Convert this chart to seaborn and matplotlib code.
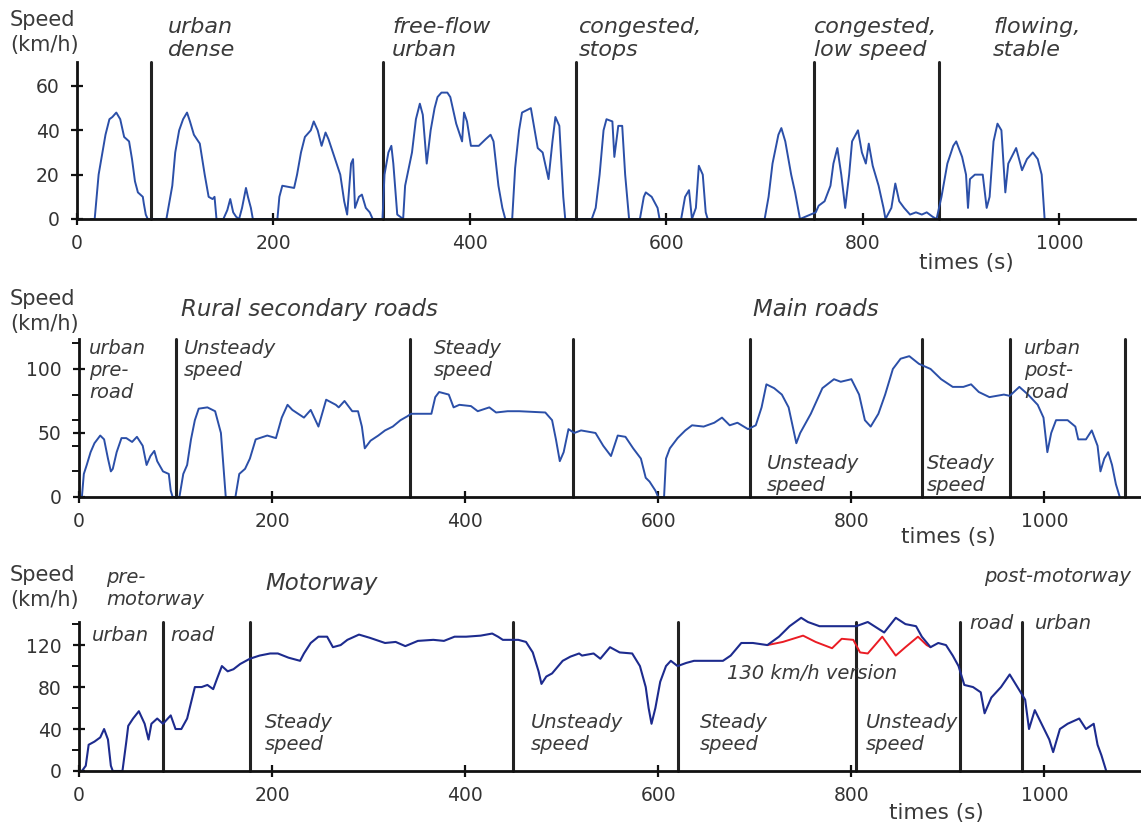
import matplotlib
matplotlib.use('Agg')
import matplotlib.pyplot as plt
import seaborn as sns

# Speed traces: time (s) and speed (km/h)
# Panel 1 - urban cycle
t1 = [14, 18, 22, 29, 33, 36, 40, 44, 48, 53, 56, 59, 62, 67, 68, 70, 72,
      91, 97, 100, 104, 108, 112, 115, 119, 125, 130, 134, 138, 140, 142,
      149, 153, 156, 159, 162, 165, 168, 172, 174, 177, 179,
      204, 206, 209, 221, 224, 228, 232, 238, 241, 245, 249, 253, 256, 262, 268,
      272, 275, 279, 281, 283, 287, 290, 294, 298, 301,
      311, 313, 317, 320, 322, 326, 332, 334, 341, 345, 349, 352, 356, 360, 364,
      367, 371, 377, 380, 386, 392, 394, 397, 401, 409, 416, 421, 424, 429, 433, 436,
      443, 446, 450, 453, 462, 469, 474, 480, 484, 487, 491, 495, 497,
      524, 528, 532, 536, 539, 545, 547, 551, 555, 558, 562,
      573, 577, 579, 585, 591, 593,
      615, 619, 623, 626, 630, 633, 637, 640, 642,
      700, 704, 708, 714, 717, 721, 727, 731, 736,
      752, 755, 761, 767, 770, 774, 778, 782, 786, 789, 795, 799, 803, 806, 810,
      816, 821, 823, 829, 833, 837, 842, 848, 854, 860, 865, 871, 875,
      880, 886, 892, 895, 901, 905, 907, 909, 914, 922, 926, 929, 933, 937, 941,
      945, 948, 956, 962, 967, 973, 978, 982, 985, 989]
v1 = [0, 0, 20, 38, 45, 46, 48, 45, 37, 35, 27, 17, 12, 10, 7, 2, 0,
      0, 15, 30, 40, 45, 48, 44, 38, 34, 20, 10, 9, 10, 0,
      0, 4, 9, 3, 1, 0, 5, 14, 10, 5, 0,
      0, 10, 15, 14, 20, 30, 37, 40, 44, 40, 33, 39, 36, 28, 20,
      8, 2, 25, 27, 5, 10, 11, 5, 3, 0,
      0, 20, 30, 33, 25, 2, 0, 15, 30, 45, 52, 47, 25, 40, 50,
      55, 57, 57, 55, 43, 35, 48, 44, 33, 33, 36, 38, 35, 15, 5, 0,
      0, 23, 40, 48, 50, 32, 30, 18, 35, 46, 42, 10, 0,
      0, 5, 20, 40, 45, 44, 28, 42, 42, 20, 0,
      0, 10, 12, 10, 5, 0,
      0, 10, 13, 0, 5, 24, 20, 3, 0,
      0, 10, 25, 38, 41, 35, 20, 12, 0,
      3, 6, 8, 15, 25, 32, 20, 5, 20, 35, 40, 30, 25, 34, 24,
      15, 5, 0, 5, 16, 8, 5, 2, 3, 2, 3, 1, 0,
      10, 25, 33, 35, 28, 20, 5, 18, 20, 20, 5, 10, 35, 43, 40,
      12, 25, 32, 22, 27, 30, 27, 20, 0, 0]
div1 = [75, 312, 508, 750, 877]

# Panel 2 - road cycle
t2 = [3, 5, 8, 12, 16, 22, 26, 30, 33, 35, 39, 44, 49, 55, 60, 66, 70, 74, 78, 81,
      87, 93, 95, 97, 104, 108, 112, 116, 120, 124, 133, 141, 147, 150, 152, 162,
      166, 172, 177, 183, 195, 204, 210, 216, 221, 227, 233, 240, 248, 256, 266,
      269, 275, 283, 289, 293, 296, 302, 310, 317, 325, 333, 340, 344, 365, 369,
      373, 383, 388, 394, 406, 413, 425, 432, 444, 456, 483, 490, 494, 498, 502,
      507, 513, 520, 535, 543, 551, 558, 566, 574, 582, 587, 591, 597, 600, 606,
      608, 612, 620, 628, 635, 647, 658, 666, 674, 682, 693, 701, 707, 712, 720,
      728, 735, 743, 747, 758, 770, 782, 789, 800, 808, 814, 820, 828, 835, 843,
      851, 860, 870, 882, 893, 905, 916, 924, 932, 943, 958, 964, 974, 983, 993,
      999, 1003, 1007, 1012, 1024, 1032, 1035, 1043, 1049, 1055, 1058, 1062, 1066,
      1070, 1074, 1078]
v2 = [0, 18, 25, 35, 42, 48, 45, 30, 20, 22, 35, 46, 46, 43, 47, 40, 25, 32, 36, 28,
      20, 18, 5, 0, 0, 18, 25, 45, 60, 69, 70, 67, 50, 20, 0, 0,
      18, 22, 30, 45, 48, 46, 62, 72, 68, 65, 62, 68, 55, 76, 72,
      70, 75, 67, 67, 55, 38, 44, 48, 52, 55, 60, 63, 65, 65, 78,
      82, 80, 70, 72, 71, 67, 70, 66, 67, 67, 66, 60, 45, 28, 35,
      53, 50, 52, 50, 40, 32, 48, 47, 38, 30, 15, 12, 5, 0, 0,
      30, 38, 46, 52, 56, 55, 58, 62, 56, 58, 53, 56, 70, 88, 85,
      80, 70, 42, 50, 65, 85, 92, 90, 92, 80, 60, 55, 65, 80, 100,
      108, 110, 104, 100, 92, 86, 86, 88, 82, 78, 80, 79, 86, 80, 72,
      62, 35, 50, 60, 60, 55, 45, 45, 52, 40, 20, 30, 35,
      25, 10, 0]
div2 = [100, 343, 512, 695, 873, 964, 1083]

# Panel 3 - motorway cycle, and the 130 km/h version where it differs
t3 = [3, 7, 10, 16, 22, 26, 30, 33, 35, 45, 49, 51, 56, 62, 68, 72, 75, 81, 87, 95,
      100, 106, 112, 116, 120, 127, 133, 139, 143, 148, 154, 160, 167, 177, 187,
      198, 206, 217, 229, 233, 240, 248, 257, 263, 271, 278, 290, 301, 317, 328,
      338, 351, 367, 378, 389, 401, 416, 428, 434, 439, 455, 463, 470, 476, 479,
      484, 490, 501, 509, 518, 521, 533, 540, 550, 560, 573, 581, 587, 590, 593,
      597, 602, 608, 613, 620, 629, 637, 667, 675, 686, 698, 713, 725, 736, 748,
      755, 767, 782, 805, 817, 834, 846, 856, 867, 873, 882, 890, 898, 905, 911,
      917, 926, 934, 938, 945, 955, 964, 972, 980, 984, 990, 997, 1005, 1009, 1016,
      1024, 1036, 1043, 1051, 1055, 1059, 1064]
v3 = [0, 5, 25, 28, 32, 40, 30, 5, 0, 0, 28, 43, 50, 57, 45, 30, 45, 50, 45, 53,
      40, 40, 50, 65, 80, 80, 82, 78, 88, 100, 95, 97, 102, 107, 110,
      112, 112, 108, 105, 112, 122, 128, 128, 118, 120, 125, 130, 127, 122, 123,
      119, 124, 125, 124, 128, 128, 129, 131, 128, 125, 125, 123, 113, 95, 83,
      90, 93, 105, 109, 112, 110, 112, 107, 118, 113, 112, 100, 80, 60, 45,
      60, 85, 100, 105, 100, 103, 105, 105, 110, 122, 122, 120, 128, 138, 146,
      142, 138, 138, 138, 142, 132, 146, 140, 138, 128, 118, 122, 120, 110, 100,
      82, 80, 75, 55, 70, 80, 92, 80, 68, 40, 58, 45, 30, 18, 40,
      45, 50, 40, 45, 25, 15, 0]
t3_130 = [713, 729, 750, 763, 780, 790, 802, 809, 817, 832, 846, 856, 869, 878, 882]
v3_130 = [120, 123, 129, 123, 117, 126, 125, 113, 112, 128, 110, 118, 128, 120, 118]
div3 = [87, 177, 450, 620, 805, 913, 977]

W, H = 1141, 826
blue = '#2b4fa8'
navy = '#1d2b8e'
red = '#ea1c24'
grey = '#3a3a3a'

sns.set_style('ticks')
plt.rcParams['font.family'] = ['DejaVu Sans']

fig = plt.figure(figsize=(W / 100, H / 100), dpi=100)


def add_ax(left, right, bottom, top):
    # axes box given in pixels of the 1141x826 image
    return fig.add_axes([left / W, 1 - bottom / H, (right - left) / W, (bottom - top) / H])


def note(x, y, s, size=14, style='italic', **kw):
    fig.text(x / W, 1 - y / H, s, fontsize=size, style=style, color=grey,
             ha=kw.pop('ha', 'left'), va=kw.pop('va', 'top'),
             linespacing=kw.pop('linespacing', 1.2), **kw)


def style_ax(ax, xmax, ymax, major, minor=None):
    ax.set_xlim(0, xmax)
    ax.set_ylim(0, ymax)
    ax.set_xticks(range(0, 1001, 200))
    ax.set_yticks(major)
    if minor is not None:
        ax.set_yticks(minor, minor=True)
    sns.despine(ax=ax)
    for side in ['left', 'bottom']:
        ax.spines[side].set_linewidth(2)
        ax.spines[side].set_color('#111')
    ax.tick_params(which='major', direction='inout', length=9, width=1.6,
                   color='#111', labelsize=13.5, labelcolor='#333', pad=6)
    ax.tick_params(axis='y', which='major', pad=8)
    ax.tick_params(which='minor', direction='out', length=5, width=1.4, color='#111')
    ax.set_xlabel('')
    ax.set_ylabel('')
    ax.patch.set_alpha(0)
    for line in ax.get_lines():
        line.set_clip_on(False)


ax1 = add_ax(77, 1135, 219, 62)
ax2 = add_ax(79, 1141, 497, 339)
ax3 = add_ax(79, 1141, 771, 622)

sns.lineplot(x=t1, y=v1, ax=ax1, color=blue, lw=1.4, sort=False, estimator=None)
for d in div1:
    ax1.axvline(d, color='#222', lw=2.2, zorder=1)
style_ax(ax1, 1077, 70.8, [0, 20, 40, 60])

sns.lineplot(x=t2, y=v2, ax=ax2, color=blue, lw=1.4, sort=False, estimator=None)
for d in div2:
    ax2.axvline(d, color='#222', lw=2.2, zorder=1)
style_ax(ax2, 1100, 123.4, [0, 50, 100], [20, 40, 60, 80, 120])

sns.lineplot(x=t3_130, y=v3_130, ax=ax3, color=red, lw=1.4, sort=False, estimator=None)
sns.lineplot(x=t3, y=v3, ax=ax3, color=navy, lw=1.5, sort=False, estimator=None)
for d in div3:
    ax3.axvline(d, color='#222', lw=2.2, zorder=1)
style_ax(ax3, 1100, 142, [0, 40, 80, 120], [20, 60, 100, 140])

# axis titles
for y in [10, 289, 565]:
    note(10, y, 'Speed\n(km/h)', size=15, style='normal', linespacing=1.3)
note(966, 263, 'times (s)', size=15.5, style='normal', va='center', ha='center')
note(948, 537, 'times (s)', size=15.5, style='normal', va='center', ha='center')
note(936, 813, 'times (s)', size=15.5, style='normal', va='center', ha='center')

# panel 1 phases
for s, x in [('urban\ndense', 168), ('free-flow\nurban', 392), ('congested,\nstops', 579),
             ('congested,\nlow speed', 814), ('flowing,\nstable', 993)]:
    note(x, 17, s, size=16)

# panel 2 phases
note(181, 298, 'Rural secondary roads', size=16.5)
note(753, 298, 'Main roads', size=16.5)
note(89, 339, 'urban\npre-\nroad')
note(184, 339, 'Unsteady\nspeed')
note(434, 339, 'Steady\nspeed')
note(767, 454, 'Unsteady\nspeed')
note(927, 454, 'Steady\nspeed')
note(1024, 339, 'urban\npost-\nroad')

# panel 3 phases
note(265, 572, 'Motorway', size=16.5)
note(106, 568, 'pre-\nmotorway')
note(984, 567, 'post-motorway')
note(92, 626, 'urban')
note(170, 626, 'road')
note(265, 713, 'Steady\nspeed')
note(531, 713, 'Unsteady\nspeed')
note(700, 713, 'Steady\nspeed')
note(866, 713, 'Unsteady\nspeed')
note(969, 614, 'road')
note(1035, 614, 'urban')
note(727, 664, '130 km/h version')

fig.savefig('out.png', dpi=100)
